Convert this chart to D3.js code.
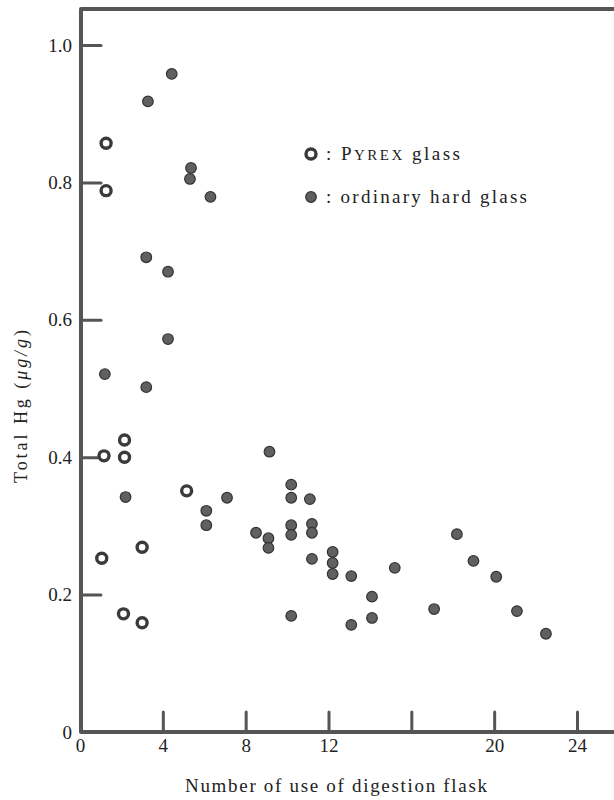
<!DOCTYPE html>
<html>
<head>
<meta charset="utf-8">
<script src="https://cdn.jsdelivr.net/npm/d3@7"></script>
<style>
  body { margin: 0; background: #fff; }
  svg text { font-family: "Times New Roman", "Liberation Serif", "DejaVu Serif", Tinos, serif !important; fill: #222; }
</style>
</head>
<body>
<div id="chart"></div>
<script>
// number of use of the digestion flask vs total Hg found (ug/g)
var pyrexUse = [1.26, 1.26, 1.16, 2.15, 2.15, 1.05, 3.0, 2.1, 3.0, 5.15];
var pyrexHg  = [0.857, 0.788, 0.402, 0.425, 0.400, 0.253, 0.269, 0.172, 0.159, 0.351];

var hardUse = [4.43, 3.28, 5.36, 5.31, 6.3, 3.2, 4.25, 4.25, 1.2, 3.2,
               9.15, 10.2, 10.2, 11.1, 2.2, 7.1, 6.1, 6.1, 8.5, 9.1,
               9.1, 10.2, 10.2, 11.2, 11.2, 11.2, 10.2, 12.2, 12.2, 12.2,
               13.1, 13.1, 14.1, 14.1, 15.2, 17.1, 18.2, 19.0, 20.1, 21.1, 22.5];
var hardHg  = [0.958, 0.918, 0.821, 0.805, 0.779, 0.691, 0.670, 0.572, 0.521, 0.502,
               0.408, 0.360, 0.341, 0.339, 0.342, 0.341, 0.322, 0.301, 0.290, 0.282,
               0.268, 0.301, 0.287, 0.303, 0.290, 0.252, 0.169, 0.262, 0.246, 0.230,
               0.227, 0.156, 0.197, 0.166, 0.239, 0.179, 0.288, 0.249, 0.226, 0.176, 0.143];

var xTicks = [0, 4, 8, 12, 16, 20, 24];
var xTickLabels = ["0", "4", "8", "12", "", "20", "24"];
var yTicks = [0, 0.2, 0.4, 0.6, 0.8, 1.0];
var yTickLabels = ["0", "0.2", "0.4", "0.6", "0.8", "1.0"];

var width = 614, height = 800;
var serif = "'Times New Roman', 'Liberation Serif', 'DejaVu Serif', serif";

var svg = d3.select("#chart").append("svg")
    .attr("width", width)
    .attr("height", height)
    .attr("font-family", serif);

var x = d3.scaleLinear().domain([0, 24]).range([80, 577]);
var y = d3.scaleLinear().domain([0, 1]).range([732, 45]);

var axisColor = "#555";

// frame: left axis, bottom axis and top line (right side is cut off)
svg.append("path")
    .attr("d", "M614,9 L" + (x(0) + 1) + ",9 L" + (x(0) + 1) + "," + y(0) + " L614," + y(0))
    .attr("fill", "none")
    .attr("stroke", axisColor)
    .attr("stroke-width", 4)
    .attr("stroke-linejoin", "round");

// y axis ticks (inward) and labels
var yAxis = svg.append("g")
    .attr("transform", "translate(" + (x(0) + 1) + ",0)")
    .call(d3.axisLeft(y).tickValues(yTicks).tickSize(-20).tickPadding(9)
      .tickFormat(function(d, i){ return yTickLabels[i]; }));
yAxis.attr("font-family", serif);
yAxis.select(".domain").remove();
yAxis.selectAll(".tick line")
    .attr("stroke", axisColor)
    .attr("stroke-width", 3)
    .attr("stroke-linecap", "round")
    .style("display", function(d){ return d === 0 ? "none" : null; });
yAxis.selectAll(".tick text")
    .style("font-size", "19px");

// x axis ticks (upward) and labels
var xAxis = svg.append("g")
    .attr("transform", "translate(0," + y(0) + ")")
    .call(d3.axisBottom(x).tickValues(xTicks).tickSize(-20).tickPadding(7)
      .tickFormat(function(d, i){ return xTickLabels[i]; }));
xAxis.attr("font-family", serif);
xAxis.select(".domain").remove();
xAxis.selectAll(".tick line")
    .attr("stroke", axisColor)
    .attr("stroke-width", 3)
    .attr("stroke-linecap", "round")
    .style("display", function(d){ return d === 0 ? "none" : null; });
xAxis.selectAll(".tick text")
    .style("font-size", "19px");

// axis titles
svg.append("text")
    .attr("x", 185)
    .attr("y", 792)
    .attr("textLength", 302)
    .attr("lengthAdjust", "spacing")
    .style("font-size", "19px")
    .text("Number of use of digestion flask");

var yt = svg.append("text")
    .attr("transform", "translate(27,483) rotate(-90)")
    .attr("textLength", 153)
    .attr("lengthAdjust", "spacing")
    .style("font-size", "18px");
yt.append("tspan").text("Total Hg (");
yt.append("tspan").style("font-style", "italic").text("μg/g");
yt.append("tspan").text(")");

// markers
function drawPyrex(sel){
  sel.attr("r", 5)
    .attr("fill", "#fff")
    .attr("stroke", "#3a3a3a")
    .attr("stroke-width", 3.4);
}
function drawHard(sel){
  sel.attr("r", 5.3)
    .attr("fill", "#606060")
    .attr("stroke", "#333")
    .attr("stroke-width", 1.2);
}

svg.append("g").selectAll("circle")
    .data(d3.range(hardUse.length))
    .enter().append("circle")
    .attr("cx", function(i){ return x(hardUse[i]); })
    .attr("cy", function(i){ return y(hardHg[i]); })
    .call(drawHard);

svg.append("g").selectAll("circle")
    .data(d3.range(pyrexUse.length))
    .enter().append("circle")
    .attr("cx", function(i){ return x(pyrexUse[i]); })
    .attr("cy", function(i){ return y(pyrexHg[i]); })
    .call(drawPyrex);

// legend
var lg = svg.append("g");
lg.append("circle").attr("cx", 311).attr("cy", 154).call(drawPyrex);
lg.append("circle").attr("cx", 311).attr("cy", 197).call(drawHard);

var t1 = lg.append("text").attr("x", 326).attr("y", 160)
    .attr("textLength", 134)
    .attr("lengthAdjust", "spacing")
    .style("font-size", "19px");
t1.append("tspan").text(": P");
t1.append("tspan").style("font-size", "15px").text("YREX");
t1.append("tspan").text(" glass");

lg.append("text").attr("x", 326).attr("y", 203)
    .style("font-size", "19px")
    .attr("textLength", 201)
    .attr("lengthAdjust", "spacing")
    .text(": ordinary hard glass");
</script>
</body>
</html>
